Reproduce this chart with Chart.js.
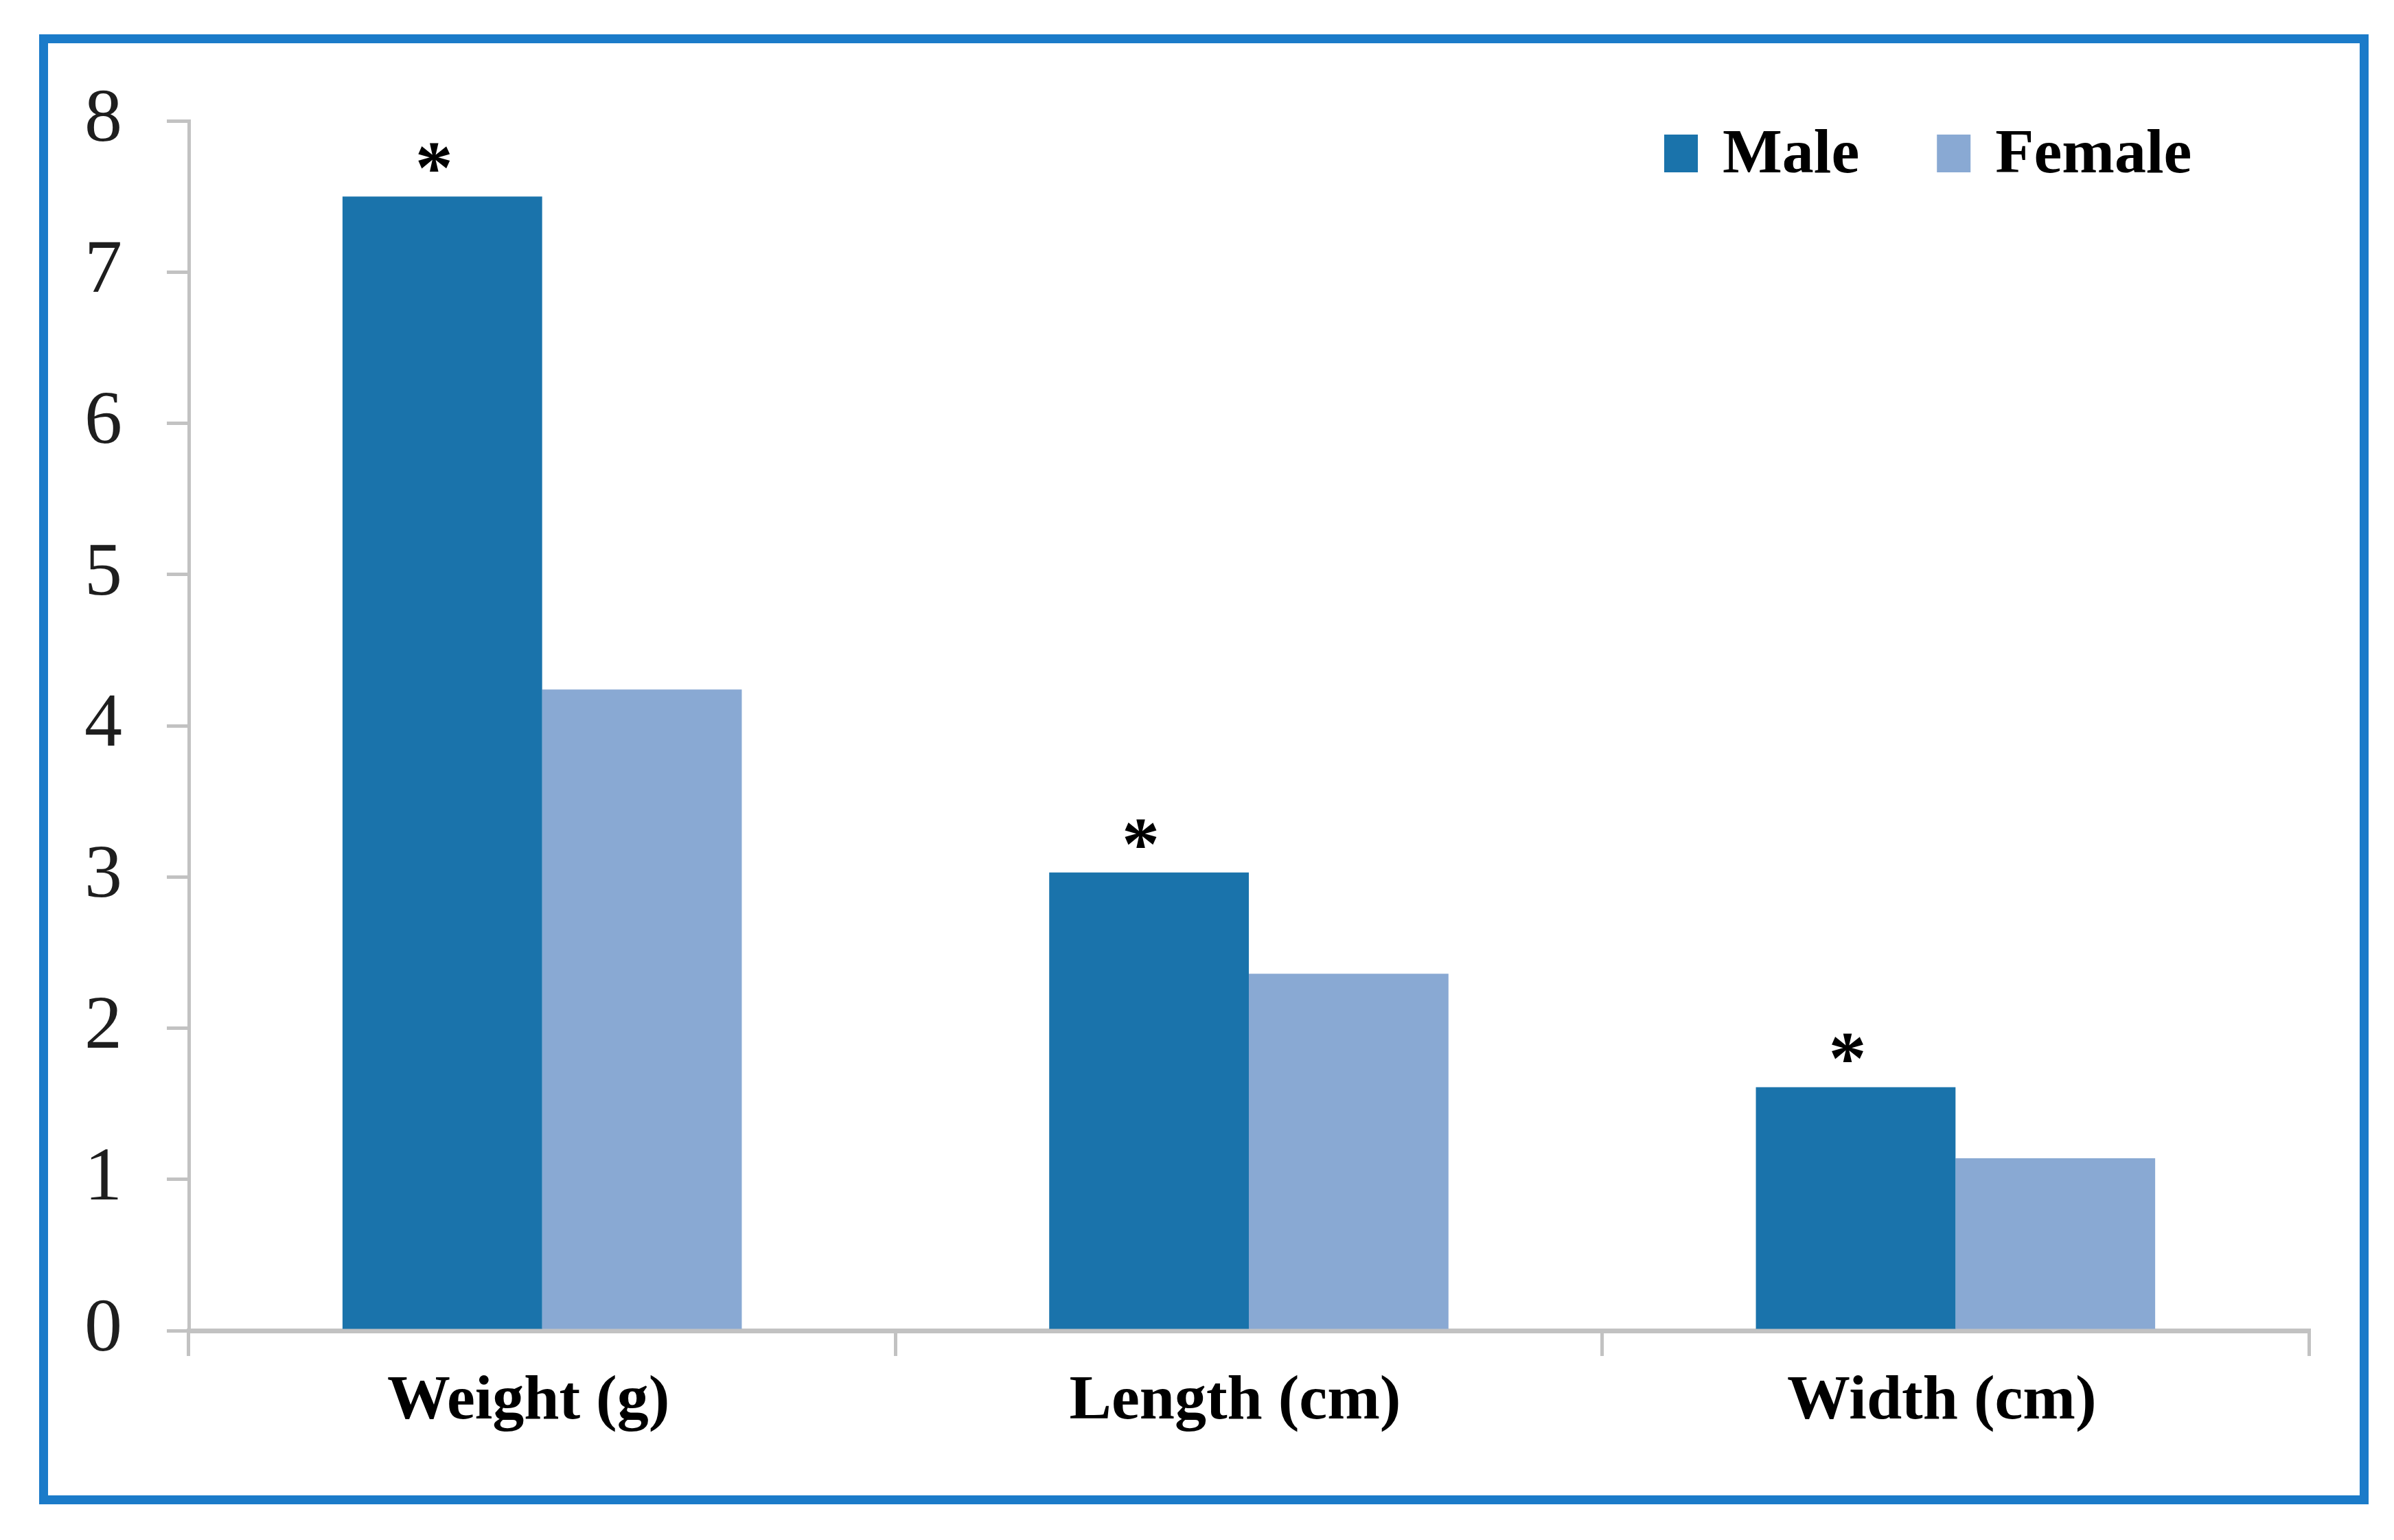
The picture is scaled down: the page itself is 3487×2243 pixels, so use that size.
<!DOCTYPE html>
<html><head><meta charset="utf-8">
<script src="https://cdn.jsdelivr.net/npm/chart.js@4/dist/chart.umd.min.js"></script>
<style>
html,body{margin:0;padding:0;background:#fff;}
#wrap{position:relative;width:3487px;height:2243px;background:#fff;}
#frame{position:absolute;left:57px;top:50px;width:3393px;height:2141px;box-sizing:border-box;border:13px solid #1b7bc9;pointer-events:none;}
canvas{position:absolute;left:0;top:0;}
</style></head><body>
<div id="wrap"><canvas id="c" width="3487" height="2243"></canvas><div id="frame"></div></div>
<script>
const categories = ['Weight (g)', 'Length (cm)', 'Width (cm)'];
const seriesNames = ['Male', 'Female'];
const maleValues = [7.5, 3.03, 1.61];
const femaleValues = [4.24, 2.36, 1.14];
const significance = ['*', '*', '*'];
const yTicks = [0, 1, 2, 3, 4, 5, 6, 7, 8];
const seriesColors = ['#1a73ab', '#89a9d3'];

const serif = '"Liberation Serif", "Times New Roman", serif';

const asteriskPlugin = {
  id: 'asterisks',
  afterDatasetsDraw(chart) {
    const ctx = chart.ctx;
    const meta = chart.getDatasetMeta(0);
    ctx.save();
    ctx.font = 'bold 110px ' + serif;
    ctx.fillStyle = '#000';
    ctx.textAlign = 'center';
    ctx.textBaseline = 'alphabetic';
    meta.data.forEach((bar, i) => {
      const t = significance[i];
      if (!t) return;
      const m = ctx.measureText(t);
      const cy = bar.y - 57;
      const base = cy + (m.actualBoundingBoxAscent - m.actualBoundingBoxDescent) / 2;
      ctx.fillText(t, bar.x - 12, base);
    });
    ctx.restore();
  }
};

const legendPlugin = {
  id: 'customLegend',
  afterDraw(chart) {
    const ctx = chart.ctx;
    ctx.save();
    ctx.font = 'bold 92px ' + serif;
    ctx.textBaseline = 'alphabetic';
    ctx.textAlign = 'left';
    let x = 2424;
    const boxW = 49, boxH = 55, boxTop = 196, baseline = 251;
    chart.data.datasets.forEach((ds) => {
      ctx.fillStyle = ds.backgroundColor;
      ctx.fillRect(x, boxTop, boxW, boxH);
      ctx.fillStyle = '#000';
      ctx.fillText(ds.label, x + boxW + 36, baseline);
      x += boxW + 36 + ctx.measureText(ds.label).width + 113;
    });
    ctx.restore();
  }
};

new Chart(document.getElementById('c'), {
  type: 'bar',
  data: {
    labels: categories,
    datasets: [
      { label: seriesNames[0], data: maleValues, backgroundColor: seriesColors[0], borderWidth: 0 },
      { label: seriesNames[1], data: femaleValues, backgroundColor: seriesColors[1], borderWidth: 0 }
    ]
  },
  options: {
    responsive: false,
    animation: false,
    devicePixelRatio: 1,
    layout: { padding: { top: 176, right: 124, bottom: 0, left: 0 } },
    datasets: { bar: { categoryPercentage: 0.565, barPercentage: 1.0 } },
    plugins: { legend: { display: false }, tooltip: { enabled: false } },
    scales: {
      x: {
        grid: { offset: true, drawOnChartArea: false, drawTicks: true, tickLength: 37, color: '#c2c2c2', lineWidth: 5 },
        border: { color: '#c2c2c2', width: 7 },
        ticks: { color: '#000', padding: 12, labelOffset: -20, font: { family: serif, size: 92, weight: 'bold' } },
        afterFit(scale) { scale.height = 305; }
      },
      y: {
        min: 0, max: 8,
        afterBuildTicks(scale) { scale.ticks = yTicks.map(v => ({ value: v })); },
        grid: { drawOnChartArea: false, drawTicks: true, tickLength: 32, color: '#c2c2c2', lineWidth: 5 },
        border: { color: '#c2c2c2', width: 5 },
        ticks: { color: '#1e1e1e', padding: 65, font: { family: serif, size: 110 } },
        afterFit(scale) { scale.width = 275; }
      }
    }
  },
  plugins: [asteriskPlugin, legendPlugin]
});
</script>
</body></html>
